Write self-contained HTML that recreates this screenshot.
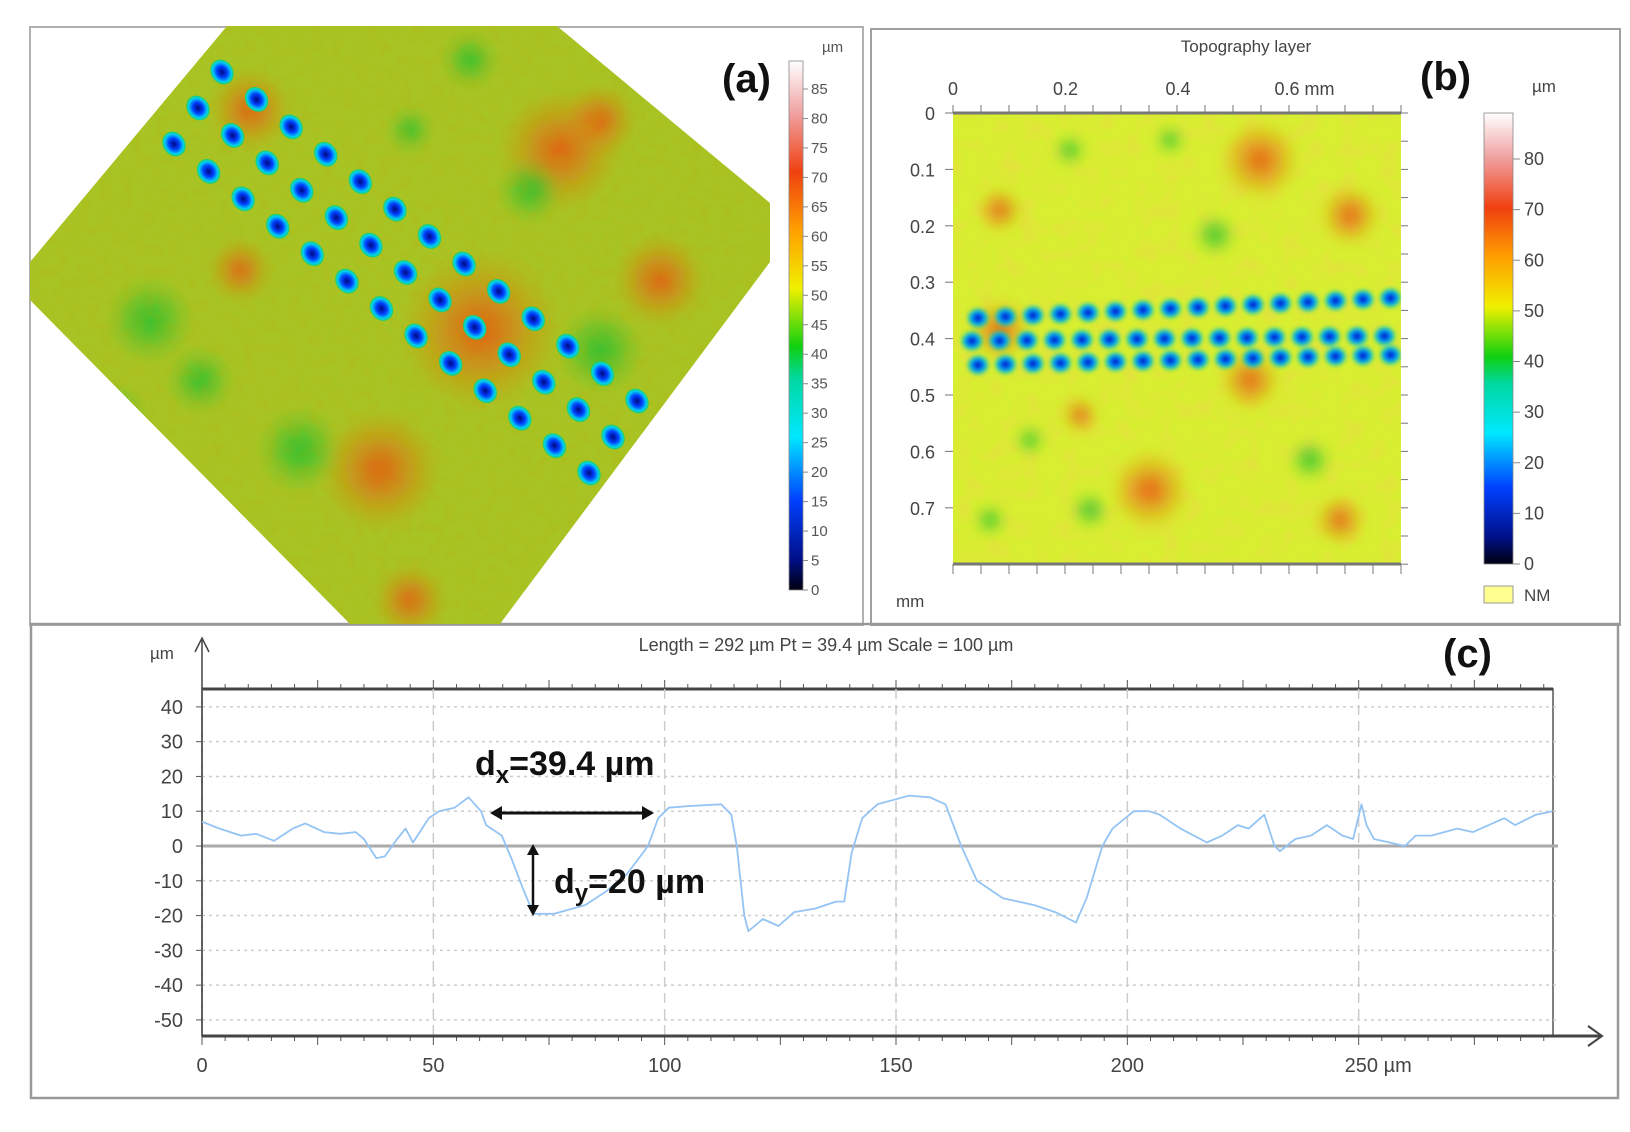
<!DOCTYPE html>
<html><head><meta charset="utf-8">
<style>
html,body{margin:0;padding:0;background:#fff;}
body{width:1630px;height:1132px;position:relative;overflow:hidden;font-family:"Liberation Sans",sans-serif;}
svg{position:absolute;left:0;top:0;}
</style></head>
<body>
<svg id="fig" width="1630" height="1132" viewBox="0 0 1630 1132" xmlns="http://www.w3.org/2000/svg">
<defs>
  <linearGradient id="cmap" x1="0" y1="1" x2="0" y2="0">
    <stop offset="0" stop-color="#000010"/>
    <stop offset="0.06" stop-color="#00108a"/>
    <stop offset="0.17" stop-color="#0040ff"/>
    <stop offset="0.29" stop-color="#00e8ff"/>
    <stop offset="0.40" stop-color="#00d8a0"/>
    <stop offset="0.46" stop-color="#10d010"/>
    <stop offset="0.57" stop-color="#f0f000"/>
    <stop offset="0.68" stop-color="#ffa000"/>
    <stop offset="0.79" stop-color="#f04010"/>
    <stop offset="0.90" stop-color="#f0a0a0"/>
    <stop offset="1" stop-color="#ffffff"/>
  </linearGradient>
  <filter id="noiseA" x="0" y="0" width="100%" height="100%">
    <feTurbulence type="fractalNoise" baseFrequency="0.09" numOctaves="2" seed="3" result="n"/>
    <feColorMatrix in="n" type="matrix" values="0 0 0 0 0.5  0 0 0 0 0.4  0 0 0 0 0  0 0 0 1.1 -0.45" result="c"/>
    <feComposite in="c" in2="SourceGraphic" operator="in"/>
  </filter>
  <filter id="noiseB" x="0" y="0" width="100%" height="100%">
    <feTurbulence type="fractalNoise" baseFrequency="0.05" numOctaves="2" seed="7" result="n"/>
    <feColorMatrix in="n" type="matrix" values="0 0 0 0 0.95  0 0 0 0 0.6  0 0 0 0 0.1  0 0 0 1.4 -0.6" result="c"/>
    <feComposite in="c" in2="SourceGraphic" operator="in"/>
  </filter>
  <filter id="blur6"><feGaussianBlur stdDeviation="6"/></filter>
  <filter id="blur3"><feGaussianBlur stdDeviation="2.5"/></filter>
  <clipPath id="diamond"><polygon points="227,26 557,26 770,203 770,262 500,624 350,624 30,300 30,262"/></clipPath>
  <clipPath id="mapB"><rect x="953" y="113" width="448" height="451"/></clipPath>
  <radialGradient id="dotG"><stop offset="0" stop-color="#000880"/><stop offset="0.45" stop-color="#0040ff"/><stop offset="0.8" stop-color="#00d0f0"/><stop offset="1" stop-color="#20d060"/></radialGradient>
  <radialGradient id="orG"><stop offset="0" stop-color="#e85010" stop-opacity="0.9"/><stop offset="1" stop-color="#e88010" stop-opacity="0"/></radialGradient>
  <radialGradient id="grG"><stop offset="0" stop-color="#20c030" stop-opacity="0.9"/><stop offset="1" stop-color="#20c030" stop-opacity="0"/></radialGradient>
</defs>

<rect x="30" y="27" width="833" height="598" fill="none" stroke="#b0b0b0" stroke-width="2"/>
<rect x="871" y="29" width="749" height="596" fill="none" stroke="#a0a0a0" stroke-width="2"/>
<rect x="31" y="624" width="1587" height="474" fill="none" stroke="#999" stroke-width="2.5"/>

<g clip-path="url(#diamond)">
  <rect x="20" y="20" width="760" height="610" fill="#a8c424"/>
  <g id="aBlobs" filter="url(#blur6)"></g>
  <rect x="20" y="20" width="760" height="610" fill="#806010" filter="url(#noiseA)" opacity="0.4"/>
  <g id="aDots"></g>
</g>
<rect x="789" y="61" width="14" height="529" fill="url(#cmap)" stroke="#888" stroke-width="0.8"/>
<g id="cbA" font-size="15" fill="#555"></g>
<text x="822" y="52" font-size="15" fill="#555">µm</text>
<text x="722" y="92" font-size="40" font-weight="bold" fill="#111">(a)</text>

<text x="1246" y="52" font-size="17" fill="#444" text-anchor="middle">Topography layer</text>
<text x="1420" y="90" font-size="40" font-weight="bold" fill="#111">(b)</text>
<g clip-path="url(#mapB)">
  <rect x="953" y="113" width="448" height="451" fill="#d8ee30"/>
  <rect x="953" y="113" width="448" height="451" fill="#f0a020" filter="url(#noiseB)" opacity="0.5"/>
  <g id="bBlobs" filter="url(#blur6)"></g>
  <g id="bDots" filter="url(#blur3)"></g>
</g>
<line x1="953" y1="113" x2="1401" y2="113" stroke="#777" stroke-width="3"/>
<line x1="953" y1="564" x2="1401" y2="564" stroke="#777" stroke-width="3"/>
<g id="axB" font-size="18" fill="#444"></g>
<text x="896" y="607" font-size="17" fill="#444">mm</text>
<rect x="1484" y="113" width="29" height="451" fill="url(#cmap)" stroke="#888" stroke-width="0.8"/>
<g id="cbB" font-size="18" fill="#444"></g>
<text x="1532" y="92" font-size="17" fill="#444">µm</text>
<rect x="1484" y="586" width="29" height="17" fill="#ffff90" stroke="#999"/>
<text x="1524" y="601" font-size="17" fill="#444">NM</text>

<text x="826" y="651" font-size="18" fill="#444" text-anchor="middle">Length = 292 µm  Pt = 39.4 µm  Scale = 100 µm</text>
<text x="1443" y="667" font-size="40" font-weight="bold" fill="#111">(c)</text>
<g id="chartC"></g>
</svg>

<script>
const profileX = [0,3.8,8.4,11.7,15.6,19.6,22.3,26.4,29.8,33.2,35.0,37.7,39.5,42.2,44.0,45.6,49.0,51.2,54.6,57.6,60.3,61.4,64.8,67.0,69.3,71.6,76.1,82.8,87.4,91.9,96.4,98.6,100.9,105.4,112.2,114.4,115.6,117.2,118.1,121.2,124.6,128.0,132.5,137.0,138.8,140.4,142.7,146.0,152.8,157.3,160.7,164.1,167.5,173.1,179.9,184.4,188.9,191.2,194.6,196.8,201.4,204.7,207.0,211.5,217.2,220.5,223.9,226.2,229.6,231.8,233.0,236.3,239.7,243.1,246.5,248.8,250.6,251.7,253.3,256.7,260.0,262.3,265.7,271.3,274.7,278.1,281.5,283.8,288.3,291.9];
const profileY = [7,5,3,3.5,1.5,5,6.5,4,3.5,4,2,-3.5,-3,2,5,1,8,10,11,14,10,6,3,-4,-12,-19.5,-19.5,-17,-13,-8,0,8,11,11.5,12,9,0,-20,-24.5,-21,-23,-19,-18,-16,-16,-2,8,12,14.5,14,12,0,-10,-15,-17,-19,-22,-15,0,5,10,10,9,5,1,3,6,5,9,0,-1.5,2,3,6,3,2,12,6,2,1,0,3,3,5,4,6,8,6,9,10];
const yTicks = [40,30,20,10,0,-10,-20,-30,-40,-50];
const xTicks = [0,50,100,150,200,250];
const xTickLabels = ["0","50","100","150","200","250 µm"];
const cbATicks = [0,5,10,15,20,25,30,35,40,45,50,55,60,65,70,75,80,85];
const cbBTicks = [0,10,20,30,40,50,60,70,80];
const bXTicks = ["0","0.2","0.4","0.6 mm"];
const bYTicks = ["0","0.1","0.2","0.3","0.4","0.5","0.6","0.7"];

const NS = "http://www.w3.org/2000/svg";
function mk(tag, attrs, parent){const e=document.createElementNS(NS,tag);for(const k in attrs)e.setAttribute(k,attrs[k]);parent.appendChild(e);return e;}

const X0=202, X1=1553, XMAX=292;
const sx = v => X0 + v*(X1-X0)/XMAX;
const Y0=846, YS=3.478;
const sy = v => Y0 - v*YS;

const c = document.getElementById('chartC');
const TOP=689, BOT=1036;
let fr = mk('rect',{x:X0,y:TOP,width:X1-X0,height:BOT-TOP,fill:'none',stroke:'#555','stroke-width':1.5},c);


mk('line',{x1:X0,y1:TOP,x2:X1,y2:TOP,stroke:'#444','stroke-width':3},c);
yTicks.forEach(t=>{
  const g=mk('line',{x1:X0,y1:sy(t),x2:X1+5,y2:sy(t),stroke:t===0?'#aaa':'#ccc','stroke-width':t===0?3:1.5,'stroke-dasharray':t===0?'':'3,4'},c);
  
  
  const l=mk('text',{x:183,y:sy(t)+7,'text-anchor':'end','font-size':20,fill:'#444'},c);
  l.textContent=t;
  
  
  mk('line',{x1:X0-6,y1:sy(t),x2:X0,y2:sy(t),stroke:'#555'},c);
});
xTicks.forEach((t,i)=>{
  const g=mk('line',{x1:sx(t),y1:TOP,x2:sx(t),y2:BOT,stroke:'#ccc','stroke-width':1.5,'stroke-dasharray':'10,6'},c);
  
  
  const l=mk('text',{x:sx(t),y:1072,'text-anchor':i===5?'start':'middle','font-size':20,fill:'#444'},c);
  if(i===5) l.setAttribute('x',sx(t)-14);
  l.textContent=xTickLabels[i];
  
  
});
for(let v=0; v<=290; v+=5){
  mk('line',{x1:sx(v),y1:TOP-(v%25===0?9:5),x2:sx(v),y2:TOP,stroke:'#555'},c);
  mk('line',{x1:sx(v),y1:BOT,x2:sx(v),y2:BOT+(v%25===0?9:5),stroke:'#555'},c);
}
let ax=mk('line',{x1:X0,y1:BOT,x2:1600,y2:BOT,stroke:'#444','stroke-width':3},c);


mk('polyline',{points:'1588,1026 1602,1036 1588,1046',fill:'none',stroke:'#444','stroke-width':2},c);
let ay=mk('line',{x1:X0,y1:BOT,x2:X0,y2:640,stroke:'#444','stroke-width':1.5},c);


mk('polyline',{points:'195,652 202,638 209,652',fill:'none',stroke:'#444','stroke-width':1.5},c);
let yu=mk('text',{x:150,y:659,'font-size':17,fill:'#444'},c);
yu.textContent='µm';


const pts = profileX.map((x,i)=>sx(x).toFixed(1)+','+sy(profileY[i]).toFixed(1)).join(' ');
const pl = mk('polyline',{points:pts,fill:'none',stroke:'#94c4f4','stroke-width':1.8,'stroke-linejoin':'round'},c);


mk('line',{x1:497,y1:813,x2:647,y2:813,stroke:'#111','stroke-width':3},c);
mk('polygon',{points:'490,813 502,806 502,820',fill:'#111'},c);
mk('polygon',{points:'654,813 642,806 642,820',fill:'#111'},c);
let dx=mk('text',{x:475,y:775,'font-size':34,'font-weight':'bold',fill:'#111'},c);
dx.innerHTML='d<tspan font-size="24" dy="8">x</tspan><tspan dy="-8">=39.4 µm</tspan>';


mk('line',{x1:533,y1:851,x2:533,y2:909,stroke:'#111','stroke-width':2.5},c);
mk('polygon',{points:'533,844 527,855 539,855',fill:'#111'},c);
mk('polygon',{points:'533,916 527,905 539,905',fill:'#111'},c);
let dy=mk('text',{x:554,y:893,'font-size':34,'font-weight':'bold',fill:'#111'},c);
dy.innerHTML='d<tspan font-size="24" dy="8">y</tspan><tspan dy="-8">=20 µm</tspan>';



const cbA=document.getElementById('cbA');
cbATicks.forEach(t=>{
  const y=590 - t*(590-89)/85;
  mk('line',{x1:803,y1:y,x2:808,y2:y,stroke:'#888'},cbA);
  const l=mk('text',{x:811,y:y+5},cbA); l.textContent=t;
  
  
});
const cbB=document.getElementById('cbB');
cbBTicks.forEach(t=>{
  const y=564 - t*(564-159)/80;
  mk('line',{x1:1513,y1:y,x2:1520,y2:y,stroke:'#888'},cbB);
  const l=mk('text',{x:1524,y:y+6},cbB); l.textContent=t;
  
  
});
const axB=document.getElementById('axB');
bXTicks.forEach((t,i)=>{
  const x=953+i*112.5;
  const l=mk('text',{x:x,y:95,'text-anchor':i===3?'start':'middle'},axB);
  if(i===3) l.setAttribute('x',x-16);
  l.textContent=t;
  
  
});
bYTicks.forEach((t,i)=>{
  const y=113+i*56.4;
  const l=mk('text',{x:935,y:y+7,'text-anchor':'end'},axB); l.textContent=t;
  
  
  mk('line',{x1:945,y1:y,x2:953,y2:y,stroke:'#777'},axB);
});
for(let i=0;i<=16;i++){const x=953+i*28;
  mk('line',{x1:x,y1:105,x2:x,y2:113,stroke:'#777'},axB);
  mk('line',{x1:x,y1:564,x2:x,y2:574,stroke:'#777'},axB);}
for(let i=0;i<=16;i++){const y=113+i*28.2;
  mk('line',{x1:1401,y1:y,x2:1408,y2:y,stroke:'#777'},axB);}

const aB=document.getElementById('aBlobs');
[[560,150,60,'orG'],[660,280,45,'orG'],[240,270,30,'orG'],[410,600,35,'orG'],[480,330,80,'orG'],[380,470,60,'orG'],[250,110,40,'orG'],[600,120,35,'orG'],
 [530,190,30,'grG'],[150,320,40,'grG'],[110,420,35,'grG'],[300,450,40,'grG'],[470,60,25,'grG'],[600,350,40,'grG'],[200,380,30,'grG'],[410,130,20,'grG']]
 .forEach(b=>mk('circle',{cx:b[0],cy:b[1],r:b[2],fill:'url(#'+b[3]+')'},aB));
const aD=document.getElementById('aDots');
for(let r=0;r<3;r++){
  for(let i=0;i<13;i++){
    const t=i/12;
    const x=222-r*30+ t*(637-222) + r*6;
    const y=72+r*28 + t*(401-72) + r*8;
    mk('ellipse',{cx:x,cy:y,rx:11,ry:13,fill:'url(#dotG)',transform:'rotate(-35 '+x+' '+y+')'},aD);
  }
}
const bB=document.getElementById('bBlobs');
[[1350,215,30,'orG'],[1340,520,25,'orG'],[1080,415,18,'orG'],[1000,210,22,'orG'],[1260,160,40,'orG'],[1000,330,30,'orG'],[1250,380,30,'orG'],[1150,490,40,'orG'],
 [1215,235,20,'grG'],[1070,150,15,'grG'],[1090,510,18,'grG'],[1030,440,14,'grG'],[1310,460,20,'grG'],[990,520,15,'grG'],[1170,140,14,'grG']]
 .forEach(b=>mk('circle',{cx:b[0],cy:b[1],r:b[2],fill:'url(#'+b[3]+')'},bB));
const bD=document.getElementById('bDots');
[[318,298],[341,336],[365,355]].forEach((row,r)=>{
  for(let i=0;i<16;i++){
    const x=972+i*27.5+(r===1?0:6);
    const y=row[0]+(row[1]-row[0])*i/15;
    mk('ellipse',{cx:x,cy:y,rx:10,ry:9,fill:'url(#dotG)'},bD);
  }
});
</script>
</body></html>
